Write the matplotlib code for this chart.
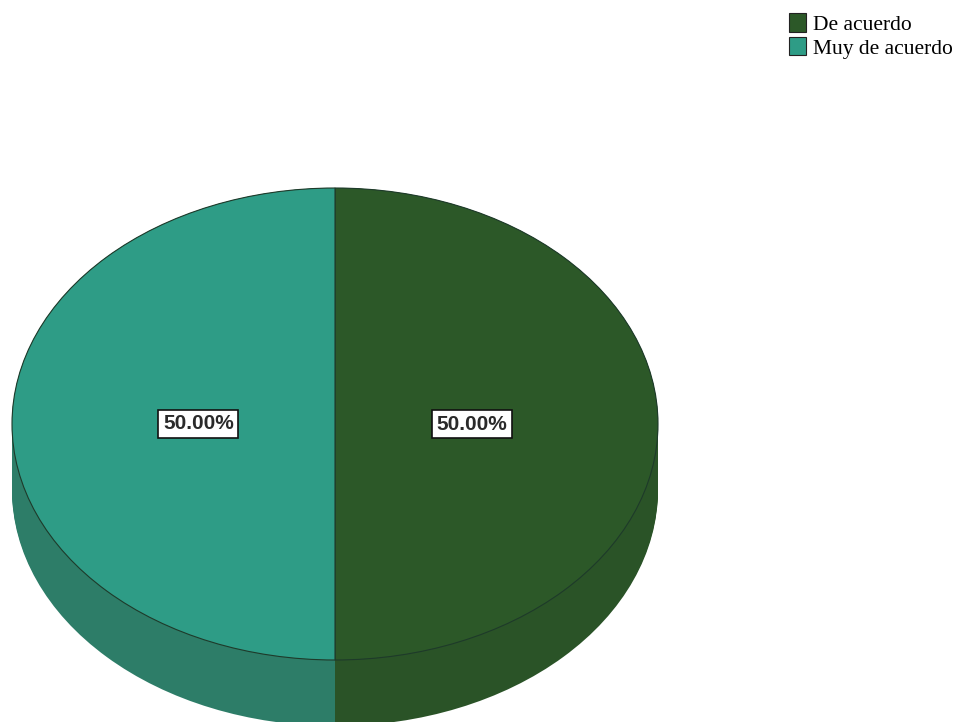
import matplotlib
matplotlib.use("Agg")
import matplotlib.pyplot as plt
import numpy as np
from matplotlib.patches import Patch

categories = ["De acuerdo", "Muy de acuerdo"]
values = [50.0, 50.0]
top_colors = ["#2c5828", "#2e9c86"]
side_colors = ["#2a5327", "#2d7d68"]

W, H = 956, 722
fig = plt.figure(figsize=(W / 100, H / 100), dpi=100)
ax = fig.add_axes([0, 0, 1, 1])

cx, cy, rx, ry = 335, 424, 323, 236
depth = 66 / ry

# side (3D depth) drawn as stacked pies
for off in np.linspace(depth, 0.0, 40):
    ax.pie(values, colors=side_colors, startangle=90, counterclock=False,
           center=(0, -off), radius=1.0,
           wedgeprops=dict(linewidth=0, antialiased=True))

# top face
wedges, texts, autotexts = ax.pie(
    values, colors=top_colors, startangle=90, counterclock=False,
    center=(0, 0), radius=1.0, autopct="%.2f%%", pctdistance=0.423,
    wedgeprops=dict(linewidth=0.8, edgecolor="#1e3a2a"),
    textprops=dict(fontsize=15, fontweight="bold", family="Liberation Sans",
                   color="#2a2a2a"))
for t in autotexts:
    t.set_bbox(dict(boxstyle="square,pad=0.22", facecolor="white",
                    edgecolor="#111111", linewidth=1.2))

ax.set_aspect("auto")
ax.set_xlim((0 - cx) / rx, (W - cx) / rx)
ax.set_ylim((cy - H) / ry, (cy - 0) / ry)
ax.axis("off")

handles = [Patch(facecolor=c, edgecolor="#222222", linewidth=0.8) for c in top_colors]
fig.legend(handles, categories, loc="upper left", bbox_to_anchor=(789 / W, 1 - 13 / H),
           frameon=False, prop=dict(family="Liberation Serif", size=15.5),
           handlelength=0.8, handleheight=0.95, handletextpad=0.3,
           labelspacing=0.1, borderpad=0, borderaxespad=0)

fig.savefig("out.png", dpi=100, facecolor="white")
